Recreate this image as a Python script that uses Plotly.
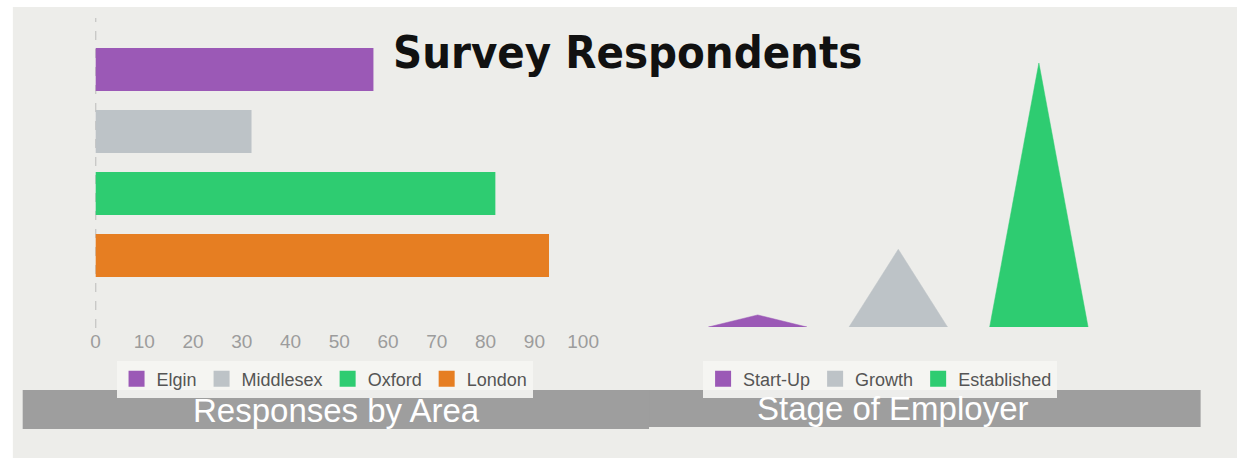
import plotly.graph_objects as go

# ---- data ----
areas = ["Elgin", "Middlesex", "Oxford", "London"]
area_values = [57, 32, 82, 93]
area_colors = ["#9B59B6", "#BDC3C7", "#2ECC71", "#E67E22"]

stages = ["Start-Up", "Growth", "Established"]
stage_values = [9, 58, 197]
stage_colors = ["#9B59B6", "#BDC3C7", "#2ECC71"]

x_ticks = [0, 10, 20, 30, 40, 50, 60, 70, 80, 90, 100]

W, H = 1253, 458
def px(x):
    return x / W
def py(y):
    return (H - y) / H

fig = go.Figure()

for name, val, col in zip(areas, area_values, area_colors):
    fig.add_trace(go.Bar(
        y=[name], x=[val], orientation="h", name=name,
        marker=dict(color=col, line=dict(width=0)),
        width=0.69, xaxis="x", yaxis="y", showlegend=False,
        hoverinfo="x+y",
    ))
    fig.add_trace(go.Scatter(
        x=[None], y=[None], mode="markers", name=name,
        marker=dict(symbol="square", size=16, color=col, line=dict(width=0)),
        xaxis="x", yaxis="y", legend="legend", showlegend=True,
    ))

half = 0.35
for i, (name, val, col) in enumerate(zip(stages, stage_values, stage_colors)):
    fig.add_trace(go.Scatter(
        x=[i - half, i, i + half, i - half], y=[0, val, 0, 0],
        fill="toself", fillcolor=col, mode="lines",
        line=dict(color=col, width=0.5), name=name,
        xaxis="x2", yaxis="y2", showlegend=False,
    ))
    fig.add_trace(go.Scatter(
        x=[None], y=[None], mode="markers", name=name,
        marker=dict(symbol="square", size=16, color=col, line=dict(width=0)),
        xaxis="x2", yaxis="y2", legend="legend2", showlegend=True,
    ))

bg = "#EDEDEA"
shapes = [
    dict(type="rect", xref="paper", yref="paper", x0=px(8), x1=px(1253), y0=py(458), y1=py(7),
         fillcolor=bg, line=dict(width=0), layer="below"),
    dict(type="line", xref="x", yref="paper", x0=0, x1=0, y0=py(328), y1=py(18),
         line=dict(color="#AAAAAA", width=1.5, dash="dash"), layer="below"),
    dict(type="rect", xref="paper", yref="paper", x0=px(590), x1=px(1216), y0=py(427), y1=py(390),
         fillcolor="#9E9E9E", line=dict(width=0)),
    dict(type="rect", xref="paper", yref="paper", x0=px(18), x1=px(655), y0=py(429), y1=py(390),
         fillcolor="#9E9E9E", line=dict(width=0)),
]

annotations = [
    dict(text="<b>Survey Respondents</b>", x=px(633), y=py(52), xref="paper", yref="paper",
         showarrow=False, xanchor="center", yanchor="middle",
         font=dict(family="DejaVu Sans Condensed, DejaVu Sans", size=45, color="#111111")),
    dict(text="Responses by Area", x=px(337), y=py(410), xref="paper", yref="paper",
         showarrow=False, xanchor="center", yanchor="middle",
         font=dict(family="Liberation Sans, Arial", size=33, color="#FFFFFF")),
    dict(text="Stage of Employer", x=px(903), y=py(408), xref="paper", yref="paper",
         showarrow=False, xanchor="center", yanchor="middle",
         font=dict(family="Liberation Sans, Arial", size=33, color="#FFFFFF")),
]

fig.update_layout(
    width=W, height=H, margin=dict(l=0, r=0, t=0, b=0),
    paper_bgcolor="#FFFFFF", plot_bgcolor="rgba(0,0,0,0)",
    showlegend=True, barmode="overlay",
    font=dict(family="Liberation Sans, Arial", color="#555555"),
    xaxis=dict(domain=[px(92), px(588)], range=[0, 100], tickvals=x_ticks,
               showgrid=False, zeroline=False, showline=False, ticks="",
               tickfont=dict(size=19, color="#9C9C9C"), anchor="y", fixedrange=True),
    yaxis=dict(domain=[py(328), py(18)], type="category", categoryorder="array",
               categoryarray=areas, range=[4.1694, -0.8306], showticklabels=False,
               showgrid=False, zeroline=False, showline=False, anchor="x", fixedrange=True),
    xaxis2=dict(domain=[px(694), px(1123)], range=[-0.5, 2.5], visible=False, anchor="y2",
                fixedrange=True),
    yaxis2=dict(domain=[py(327), py(18)], range=[0, 230.6], visible=False, anchor="x2",
                fixedrange=True),
    legend=dict(orientation="h", x=px(325), y=py(379), xanchor="center", yanchor="middle",
                bgcolor="rgba(245,245,243,0.9)", font=dict(size=18, color="#555555"),
                itemclick=False, itemdoubleclick=False),
    legend2=dict(orientation="h", x=px(890), y=py(379), xanchor="center", yanchor="middle",
                 bgcolor="rgba(245,245,243,0.9)", font=dict(size=18, color="#555555"),
                 itemclick=False, itemdoubleclick=False),
    shapes=shapes, annotations=annotations,
)

fig.write_html(
    "out.html",
    config={"displayModeBar": False},
    post_script=(
        "document.body.style.margin='0';"
        "document.body.style.overflow='hidden';"
        "document.documentElement.style.overflow='hidden';"
    ),
)
